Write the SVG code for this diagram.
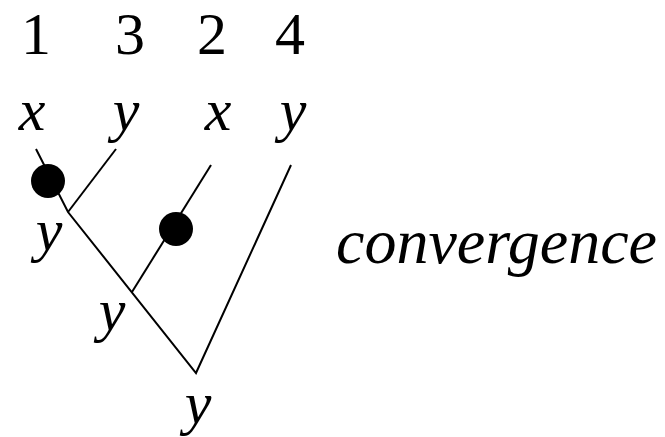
<svg xmlns="http://www.w3.org/2000/svg" width="665" height="437" viewBox="0 0 665 437">
<style>
.num{font-family:"Liberation Serif","Times New Roman",serif;font-size:60px;fill:#000;text-anchor:middle}
.var{font-family:"Liberation Serif","Times New Roman",serif;font-size:60px;font-style:italic;fill:#000;text-anchor:middle}
.lbl{font-family:"Liberation Serif","Times New Roman",serif;font-size:64px;font-style:italic;fill:#000}
.edge{stroke:#000;stroke-width:2;fill:none}
.dot{fill:#000}
</style>
<rect width="665" height="437" fill="#fff"/>
<g id="labels-top">
<text class="num" x="36" y="54">1</text>
<text class="num" x="130" y="54">3</text>
<text class="num" x="212" y="54">2</text>
<text class="num" x="290" y="54">4</text>
</g>
<g id="leaves">
<text class="var" x="32" y="130">x</text>
<text class="var" x="126" y="130">y</text>
<text class="var" x="218" y="130">x</text>
<text class="var" x="293" y="130">y</text>
</g>
<g id="connectors">
<polyline class="edge" points="36,149 68,212 196,373 291,165"/>
<line class="edge" x1="116" y1="149" x2="68" y2="212"/>
<line class="edge" x1="211" y1="165" x2="132" y2="292"/>
</g>
<g id="mutation1"><circle class="dot" cx="48" cy="181" r="17"/></g>
<g id="mutation2"><circle class="dot" cx="176" cy="229" r="17"/></g>
<g id="internal1"><text class="var" x="49" y="250">y</text></g>
<g id="internal2"><text class="var" x="112" y="330">y</text></g>
<g id="root"><text class="var" x="198" y="423">y</text></g>
<g id="caption"><text class="lbl" x="336" y="263">convergence</text></g>
</svg>
